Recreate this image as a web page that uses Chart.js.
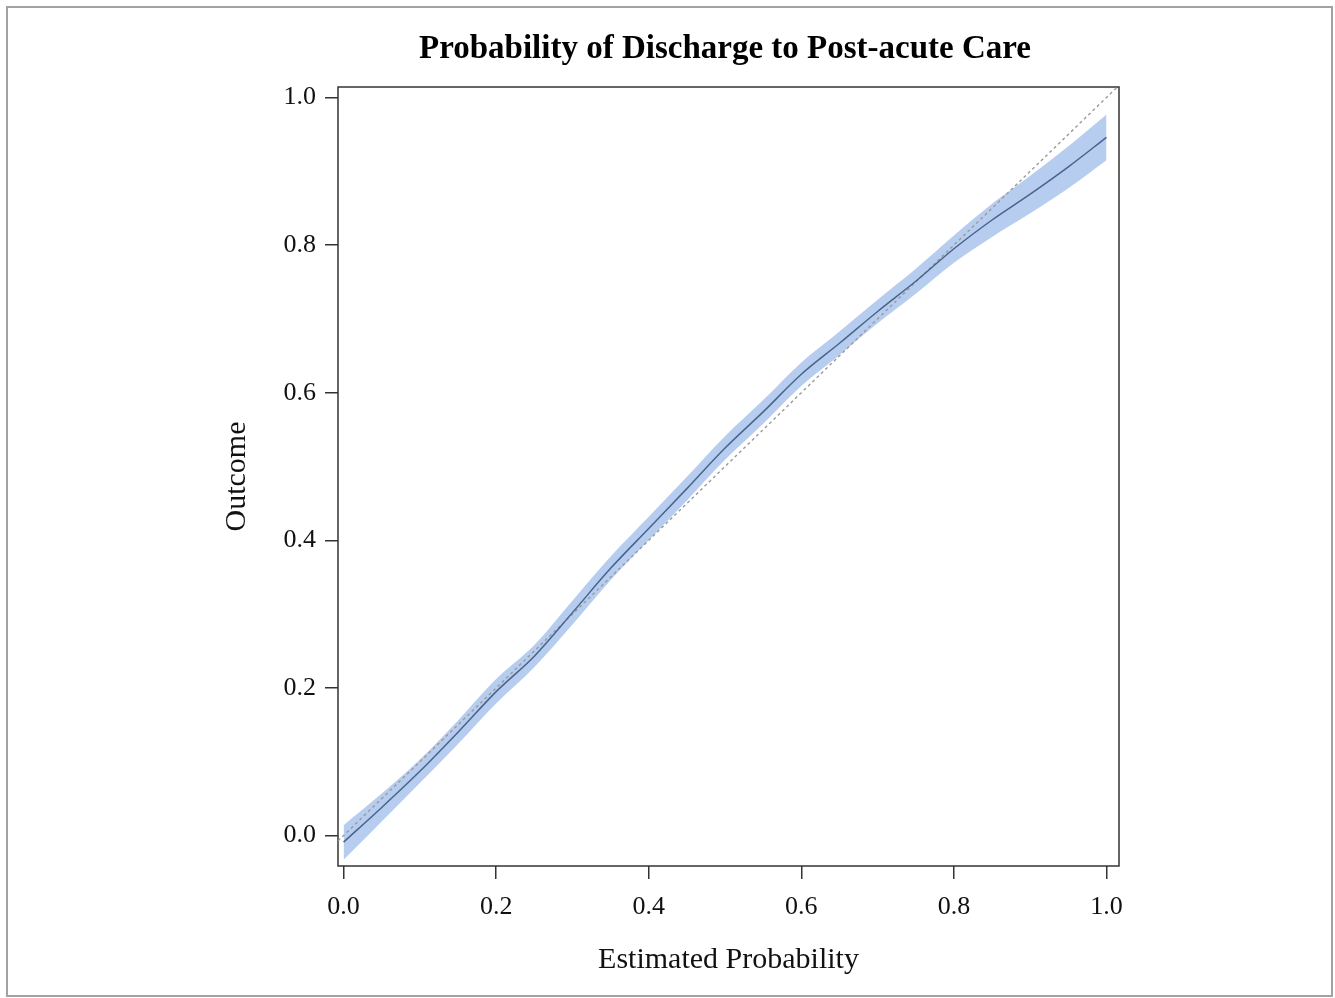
<!DOCTYPE html>
<html>
<head>
<meta charset="utf-8">
<title>Probability of Discharge to Post-acute Care</title>
<script src="https://cdn.jsdelivr.net/npm/chart.js@4/dist/chart.umd.min.js"></script>
<style>
  body { margin: 0; background: #fff; }
  #wrap { position: relative; width: 1335px; height: 998px; }
  #frame {
    position: absolute; left: 6px; top: 6px; width: 1327px; height: 991px;
    border: 2px solid #a2a2a2; box-sizing: border-box; pointer-events: none;
  }
</style>
</head>
<body>
<div id="wrap">
  <canvas id="chart" width="1335" height="998"></canvas>
  <div id="frame"></div>
</div>
<script>
// Calibration curve: estimated probability vs observed outcome, with confidence band
const estProb = [0.00, 0.05, 0.10, 0.15, 0.20, 0.25, 0.30, 0.35, 0.40, 0.45, 0.50,
                 0.55, 0.60, 0.65, 0.70, 0.75, 0.80, 0.85, 0.90, 0.95, 1.00];
const outcomeFit = [-0.009, 0.038, 0.087, 0.140, 0.195, 0.243, 0.302, 0.362, 0.416, 0.470, 0.525,
                    0.574, 0.625, 0.667, 0.710, 0.751, 0.795, 0.834, 0.869, 0.906, 0.946];
const ciLower = [-0.033, 0.019, 0.071, 0.124, 0.179, 0.228, 0.286, 0.346, 0.400, 0.454, 0.509,
                 0.558, 0.609, 0.651, 0.694, 0.734, 0.776, 0.811, 0.843, 0.877, 0.915];
const ciUpper = [0.014, 0.057, 0.103, 0.156, 0.212, 0.258, 0.318, 0.378, 0.432, 0.486, 0.541,
                 0.590, 0.641, 0.683, 0.726, 0.768, 0.813, 0.856, 0.894, 0.934, 0.977];
const tickVals = [0, 0.2, 0.4, 0.6, 0.8, 1.0];
const xRange = [-0.0073, 1.0164];
const yRange = [-0.0413, 1.0142];

const FONT = '"Liberation Serif", "Times New Roman", serif';
const AXIS = '#333';
const BAND = 'rgb(183, 205, 240)';

const pts = ys => estProb.map((x, i) => ({ x: x, y: ys[i] }));

// plot frame on all four sides
const boxPlugin = {
    id: 'plotBox',
    beforeDatasetsDraw(chart) {
        const a = chart.chartArea, ctx = chart.ctx;
        ctx.save();
        ctx.strokeStyle = AXIS;
        ctx.lineWidth = 1.5;
        ctx.strokeRect(a.left, a.top, a.right - a.left, a.bottom - a.top);
        ctx.restore();
    }
};

const setTicks = axis => { axis.ticks = tickVals.map(v => ({ value: v })); };

new Chart(document.getElementById('chart'), {
    type: 'line',
    data: {
        datasets: [
            {
                label: 'Fit',
                data: pts(outcomeFit),
                borderColor: 'rgb(72, 100, 140)',
                borderWidth: 1.5,
                pointRadius: 0,
                cubicInterpolationMode: 'monotone',
                fill: false
            },
            {
                label: 'Reference',
                data: [{ x: xRange[0], y: xRange[0] }, { x: 1.03, y: 1.03 }],
                borderColor: '#9a9a9a',
                borderWidth: 1.4,
                borderDash: [3, 3],
                pointRadius: 0,
                fill: false
            },
            {
                label: 'Upper',
                data: pts(ciUpper),
                borderWidth: 0,
                borderColor: BAND,
                backgroundColor: BAND,
                pointRadius: 0,
                cubicInterpolationMode: 'monotone',
                fill: '+1'
            },
            {
                label: 'Lower',
                data: pts(ciLower),
                borderWidth: 0,
                borderColor: BAND,
                pointRadius: 0,
                cubicInterpolationMode: 'monotone',
                fill: false
            }
        ]
    },
    options: {
        responsive: false,
        animation: false,
        layout: { padding: { left: 115, right: 0, top: 0, bottom: 0 } },
        plugins: {
            legend: { display: false },
            tooltip: { enabled: false },
            title: {
                display: true,
                text: 'Probability of Discharge to Post-acute Care',
                color: '#000',
                font: { family: FONT, size: 33, weight: 'bold' },
                padding: { top: 30, bottom: 17.4 }
            }
        },
        scales: {
            x: {
                type: 'linear',
                min: xRange[0],
                max: xRange[1],
                afterBuildTicks: setTicks,
                afterFit: s => { s.height = 132; },
                grid: { display: true, drawOnChartArea: false, drawTicks: true, tickLength: 13, color: AXIS, lineWidth: 1.5 },
                border: { display: false },
                ticks: {
                    padding: 13,
                    color: '#111',
                    font: { family: FONT, size: 26 },
                    maxRotation: 0,
                    callback: v => v.toFixed(1)
                },
                title: {
                    display: true,
                    text: 'Estimated Probability',
                    color: '#111',
                    font: { family: FONT, size: 30 },
                    padding: { top: 0, bottom: 20 }
                }
            },
            y: {
                min: yRange[0],
                max: yRange[1],
                afterBuildTicks: setTicks,
                afterFit: s => { s.width = 223; },
                grid: { display: true, drawOnChartArea: false, drawTicks: true, tickLength: 13, color: AXIS, lineWidth: 1.5 },
                border: { display: false },
                ticks: {
                    padding: 9,
                    color: '#111',
                    font: { family: FONT, size: 26 },
                    callback: v => v.toFixed(1)
                },
                title: {
                    display: true,
                    text: 'Outcome',
                    color: '#111',
                    font: { family: FONT, size: 30 },
                    padding: { top: 104, bottom: 0 }
                }
            },
            yRight: {
                position: 'right',
                min: yRange[0],
                max: yRange[1],
                afterFit: s => { s.width = 216; },
                grid: { display: false },
                border: { display: false },
                ticks: { display: false }
            }
        }
    },
    plugins: [boxPlugin]
});
</script>
</body>
</html>
